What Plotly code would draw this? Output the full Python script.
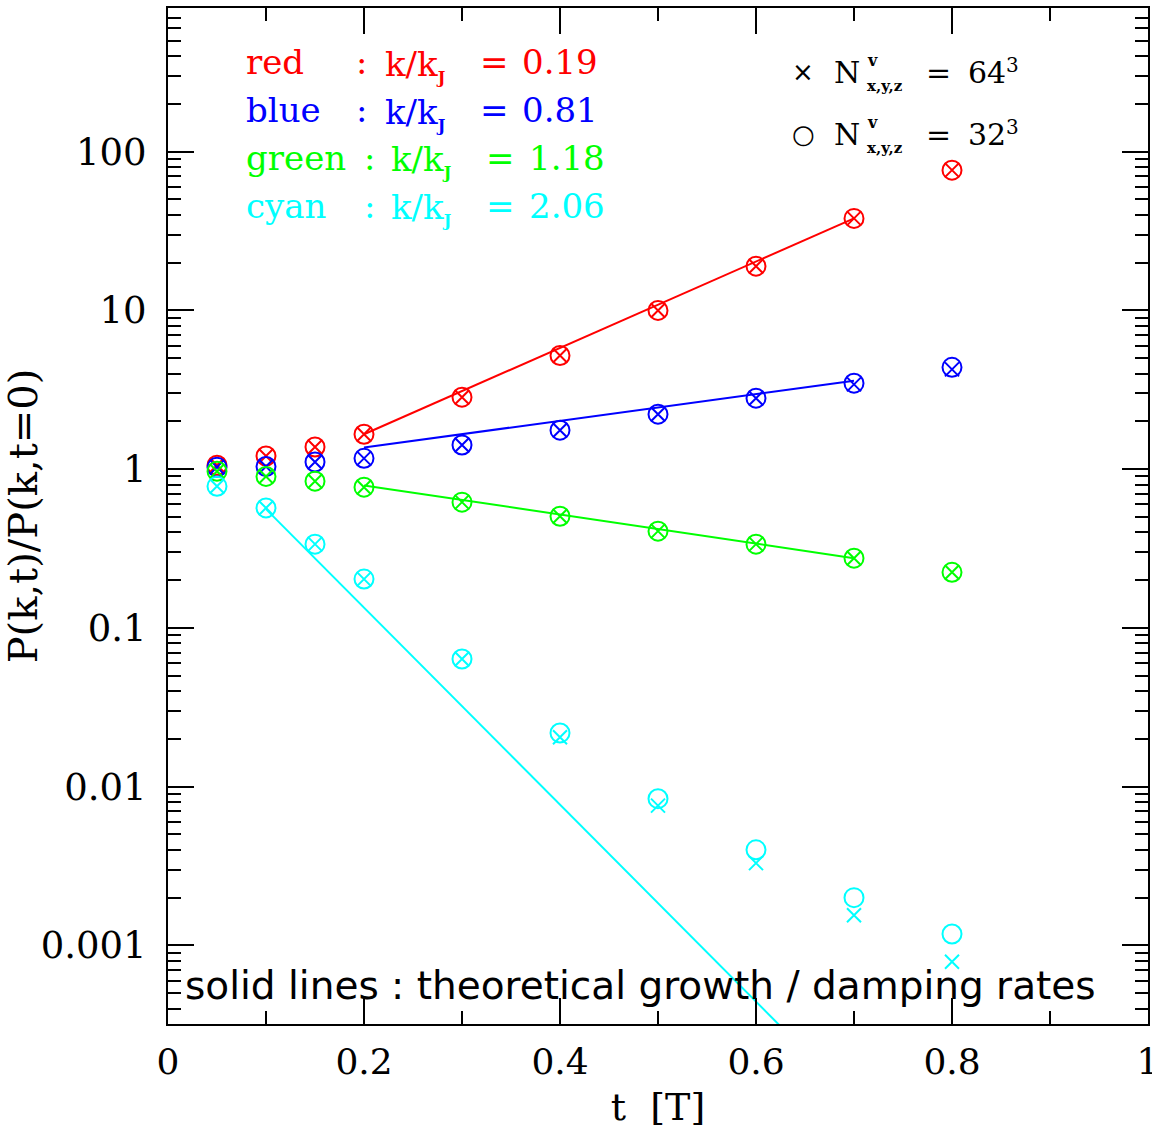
import plotly.graph_objects as go

# Sampling times [T]
t = [0.05, 0.1, 0.15, 0.2, 0.3, 0.4, 0.5, 0.6, 0.7, 0.8]

# P(k,t)/P(k,t=0) for the 32^3 velocity grid (circles)
red_32 = [1.06, 1.21, 1.38, 1.66, 2.84, 5.2, 10.0, 19.0, 38.0, 76.5]
blue_32 = [1.03, 1.04, 1.11, 1.17, 1.42, 1.76, 2.22, 2.80, 3.48, 4.38]
green_32 = [0.97, 0.90, 0.84, 0.77, 0.62, 0.505, 0.407, 0.337, 0.275, 0.224]
cyan_32 = [0.78, 0.57, 0.337, 0.203, 0.0637, 0.0218, 0.0084, 0.0040, 0.0020, 0.00118]

# P(k,t)/P(k,t=0) for the 64^3 velocity grid (crosses)
red_64 = [1.06, 1.21, 1.38, 1.66, 2.84, 5.2, 10.0, 19.0, 38.0, 76.5]
blue_64 = [1.03, 1.04, 1.11, 1.17, 1.42, 1.76, 2.22, 2.80, 3.42, 4.25]
green_64 = [0.97, 0.90, 0.84, 0.77, 0.62, 0.505, 0.407, 0.337, 0.275, 0.224]
cyan_64 = [0.78, 0.57, 0.337, 0.203, 0.0637, 0.0205, 0.0076, 0.0033, 0.00155, 0.00079]

# Theoretical growth / damping lines (end points)
red_line_t, red_line_v = [0.2, 0.7], [1.66, 38.0]
blue_line_t, blue_line_v = [0.2, 0.7], [1.37, 3.6]
green_line_t, green_line_v = [0.2, 0.7], [0.79, 0.275]
cyan_line_t, cyan_line_v = [0.1, 0.7], [0.56, 1.06e-4]

# Legend entries
names = ["red", "blue", "green", "cyan"]
k_ratios = ["0.19", "0.81", "1.18", "2.06"]

# Axis ticks
x_tickvals = [0, 0.2, 0.4, 0.6, 0.8, 1]
x_ticktext = ["0", "0.2", "0.4", "0.6", "0.8", "1"]
y_tickvals = [100, 10, 1, 0.1, 0.01, 0.001]
y_ticktext = ["100", "10", "1", "0.1", "0.01", "0.001"]

RED, BLUE, GREEN, CYAN = "#ff0000", "#0000ff", "#00ff00", "#00ffff"
colors = [RED, BLUE, GREEN, CYAN]

W, H = 1152, 1134
L, R, T, B = 168, 4, 8, 110
PW, PH = W - L - R, H - T - B


def px(x):
    return (x - L) / PW


def py(y):
    return (H - B - y) / PH


fig = go.Figure()

lines = [(red_line_t, red_line_v), (blue_line_t, blue_line_v),
         (green_line_t, green_line_v), (cyan_line_t, cyan_line_v)]
for (lt, lv), c in zip(lines, colors):
    fig.add_trace(go.Scatter(x=lt, y=lv, mode="lines",
                             line=dict(color=c, width=2), showlegend=False))

series32 = [red_32, blue_32, green_32, cyan_32]
series64 = [red_64, blue_64, green_64, cyan_64]
for v32, v64, c in zip(series32, series64, colors):
    fig.add_trace(go.Scatter(x=t, y=v32, mode="markers", showlegend=False,
                             marker=dict(symbol="circle-open", size=19, color=c,
                                         line=dict(width=2, color=c))))
    fig.add_trace(go.Scatter(x=t, y=v64, mode="markers", showlegend=False,
                             marker=dict(symbol="x-thin-open", size=14, color=c,
                                         line=dict(width=2, color=c))))

annotations = []
SERIF = "DejaVu Serif"


def text(x, y, s, size, color="black", family=SERIF, xanchor="left"):
    annotations.append(dict(x=px(x), y=py(y), xref="paper", yref="paper", text=s,
                            showarrow=False, xanchor=xanchor, yanchor="middle",
                            font=dict(family=family, size=size, color=color)))


# colour key, top left
row_y = [62, 110, 158, 206]
colon_x = [354, 354, 362, 362]
k_x = [383, 383, 389, 389]
eq_x = [478, 478, 484, 484]
val_x = [520, 520, 527, 527]
for name, kr, c, yy, cx, kx, ex, vx in zip(names, k_ratios, colors, row_y,
                                            colon_x, k_x, eq_x, val_x):
    text(244, yy, name, 34, c)
    text(cx, yy, ":", 34, c)
    text(kx, yy + 3, "k/k<sub><span style='font-size:16px'><b>J</b></span></sub>", 34, c)
    text(ex, yy, "=", 34, c)
    text(vx, yy, kr, 34, c)

# resolution key, top right
for yy, sym, ssize, res in [(72, "\u00d7", 26, "64"), (134, "\u25cb", 26, "32")]:
    text(803, yy, sym, ssize, "black", "DejaVu Sans", "center")
    text(832, yy, "N", 30)
    text(865, yy - 12, "<b>v</b>", 16)
    text(865, yy + 14, "<b>x,y,z</b>", 15)
    text(924, yy, "=", 30)
    text(966, yy, res, 30)
    text(1004, yy - 7, "3", 20)

# bottom note
text(640, 985, "solid lines : theoretical growth / damping rates", 39,
     "black", "DejaVu Sans", "center")

axis_common = dict(showline=True, linecolor="black", linewidth=2, mirror="ticks",
                   ticks="inside", tickcolor="black", tickwidth=2,
                   showgrid=False, zeroline=False, automargin=False)

fig.update_layout(
    width=W, height=H,
    margin=dict(l=L, r=R, t=T, b=B),
    paper_bgcolor="white", plot_bgcolor="white",
    annotations=annotations,
    xaxis=dict(range=[0, 1], tickvals=x_tickvals, ticktext=x_ticktext, ticklen=26,
               minor=dict(dtick=0.1, ticklen=13, ticks="inside", tickcolor="black",
                          tickwidth=1.5),
               tickfont=dict(family=SERIF, size=36, color="black"),
               ticklabelstandoff=5, ticklabeloverflow="allow",
               title=dict(text="t\u00a0\u00a0[T]", standoff=12,
                          font=dict(family=SERIF, size=38, color="black")),
               **axis_common),
    yaxis=dict(type="log", range=[-3.495, 2.905], tickvals=y_tickvals,
               ticktext=y_ticktext, ticklen=26,
               minor=dict(dtick="D1", ticklen=13, ticks="inside", tickcolor="black",
                          tickwidth=1.5),
               tickfont=dict(family=SERIF, size=37, color="black"),
               ticklabelstandoff=12,
               title=dict(text="P(k,t)/P(k,t=0)", standoff=20,
                          font=dict(family=SERIF, size=40, color="black")),
               **axis_common),
)

fig.write_html("out.html")
